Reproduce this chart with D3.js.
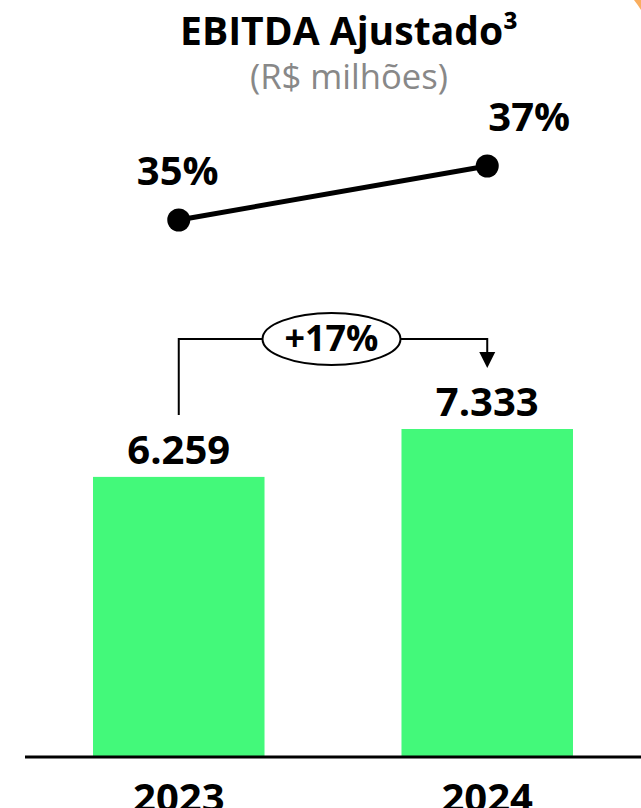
<!DOCTYPE html>
<html>
<head>
<meta charset="utf-8">
<script src="https://cdn.jsdelivr.net/npm/d3@7"></script>
<style>
  html, body { margin: 0; padding: 0; background: #ffffff; }
  svg { display: block; }
  text { font-family: "Open Sans", "Noto Sans", sans-serif; }
</style>
</head>
<body>
<script>
// ---- data ----
const categories = ["2023", "2024"];
const ebitdaValues = [6259, 7333];
const ebitdaLabels = ["6.259", "7.333"];
const marginValues = [35, 37];
const marginLabels = ["35%", "37%"];
const growthLabel = "+17%";
const titleText = "EBITDA Ajustado³";
const subtitleText = "(R$ milhões)";

const W = 641, H = 808;
const svg = d3.select("body").append("svg").attr("width", W).attr("height", H);

// fit a text's font size so its rendered width matches a target width
function fitWidth(sel, target) {
  const fs = +sel.attr("font-size");
  const len = sel.node().getComputedTextLength();
  if (len > 0) sel.attr("font-size", fs * target / len);
}

// decorative orange corner
svg.append("path")
  .attr("d", "M634,0 Q638,5 641,10 L641,0 Z")
  .attr("fill", "#F9AE5F");

// scales
const x = d3.scaleBand().domain(categories).range([93, 573]).paddingInner(0.444).paddingOuter(0);
const y = d3.scaleLinear().domain([0, 7333]).range([756, 429]);
const yM = d3.scaleLinear().domain([35, 37]).range([220, 166]);
const cx = c => x(c) + x.bandwidth() / 2;

// title
const t1 = svg.append("text").attr("x", 349).attr("y", 45).attr("text-anchor", "middle")
  .attr("font-size", 38).attr("font-weight", 700).attr("fill", "#000").text(titleText);
fitWidth(t1, 338);
const t2 = svg.append("text").attr("x", 349).attr("y", 89).attr("text-anchor", "middle")
  .attr("font-size", 30).attr("fill", "#888888").text(subtitleText);
fitWidth(t2, 198);

// margin line
const line = d3.line().x((d, i) => cx(categories[i])).y(d => yM(d));
svg.append("path").datum(marginValues).attr("d", line)
  .attr("fill", "none").attr("stroke", "#000").attr("stroke-width", 5);
svg.selectAll("circle.m").data(marginValues).join("circle").attr("class", "m")
  .attr("cx", (d, i) => cx(categories[i])).attr("cy", d => yM(d)).attr("r", 11.5).attr("fill", "#000");
const mOffsets = [-1, 42];
svg.selectAll("text.ml").data(marginValues).join("text").attr("class", "ml")
  .attr("x", (d, i) => cx(categories[i]) + mOffsets[i]).attr("y", d => yM(d) - 35)
  .attr("text-anchor", "middle").attr("font-size", 40).attr("font-weight", 700)
  .text((d, i) => marginLabels[i]);

// bars
svg.selectAll("rect.bar").data(ebitdaValues).join("rect").attr("class", "bar")
  .attr("x", (d, i) => x(categories[i])).attr("width", x.bandwidth())
  .attr("y", d => y(d)).attr("height", d => y(0) - y(d)).attr("fill", "#43F97A");

svg.selectAll("text.vl").data(ebitdaValues).join("text").attr("class", "vl")
  .attr("x", (d, i) => cx(categories[i])).attr("y", d => y(d) - 13)
  .attr("text-anchor", "middle").attr("font-size", 40).attr("font-weight", 700)
  .text((d, i) => ebitdaLabels[i]);

// baseline
svg.append("line").attr("x1", 25).attr("x2", 641).attr("y1", y(0) + 1).attr("y2", y(0) + 1)
  .attr("stroke", "#000").attr("stroke-width", 3);

// category labels
svg.selectAll("text.cat").data(categories).join("text").attr("class", "cat")
  .attr("x", d => cx(d)).attr("y", 812).attr("text-anchor", "middle")
  .attr("font-size", 40).attr("font-weight", 700).text(d => d);

// growth bracket
const x1 = cx(categories[0]), x2 = cx(categories[1]);
const by = 339;
const ex = 331.5, erx = 69, ery = 26;
svg.append("path")
  .attr("d", `M${x1},${y(ebitdaValues[0]) - 62} V${by} H${ex - erx} M${ex + erx},${by} H${x2} V${356}`)
  .attr("fill", "none").attr("stroke", "#000").attr("stroke-width", 2);
svg.append("path")
  .attr("d", `M${x2 - 8},${352} L${x2 + 8},${352} L${x2},${368} Z`).attr("fill", "#000");
svg.append("ellipse").attr("cx", ex).attr("cy", by).attr("rx", erx).attr("ry", ery)
  .attr("fill", "#fff").attr("stroke", "#000").attr("stroke-width", 2);
const g = svg.append("text").attr("x", ex).attr("y", by + 12).attr("text-anchor", "middle")
  .attr("font-size", 34).attr("font-weight", 700).text(growthLabel);
fitWidth(g, 94);
</script>
</body>
</html>
